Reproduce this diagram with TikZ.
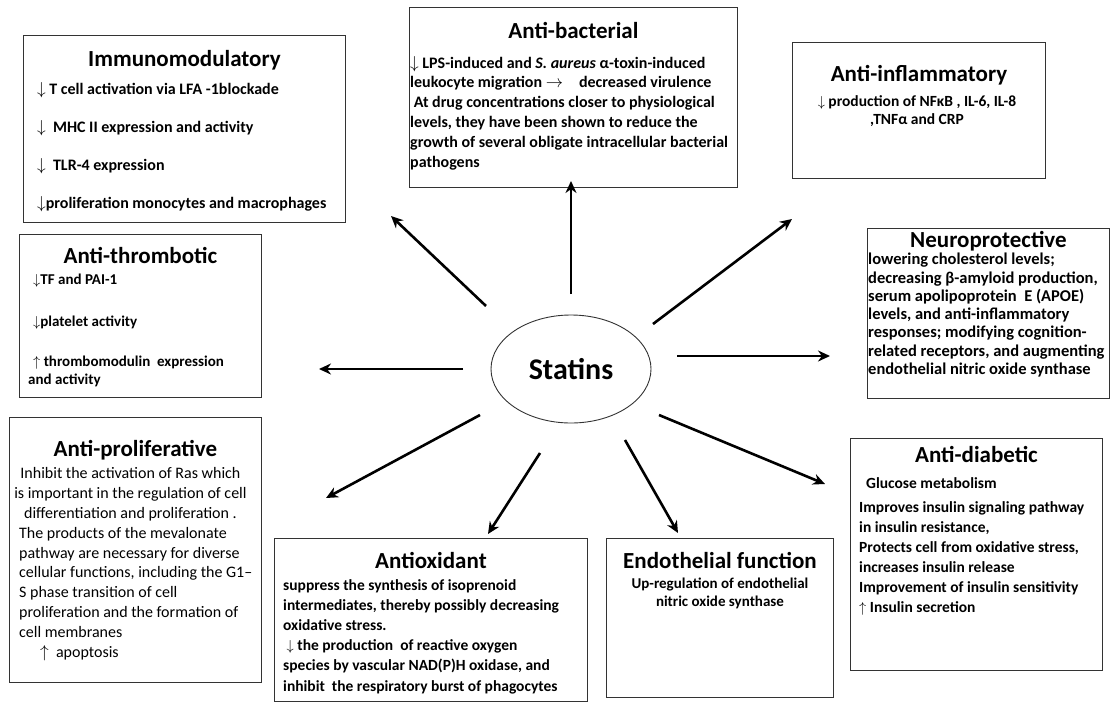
\documentclass[tikz,border=0pt]{standalone}
\usepackage{fontspec}
\setmainfont{Carlito}
\usetikzlibrary{positioning, calc, arrows.meta, shapes.geometric}
\tikzset{>={Stealth[length=12pt,width=11pt]}}

\begin{document}
\begin{tikzpicture}
    [x=1pt, y=-1pt,
     box/.style={draw=black!80, line width=0.9pt, anchor=north west, inner sep=0pt},
     ttl/.style={font=\bfseries\fontsize{23}{27}\selectfont, inner sep=0pt},
     txt/.style={anchor=north west, inner sep=0pt, align=left},
     fs/.style 2 args={font=\bfseries\fontsize{#1}{#2}\selectfont},
     thin/.style 2 args={font=\mdseries\fontsize{#1}{#2}\selectfont},
     spoke/.style={->, line width=2.6pt}]
    \useasboundingbox (0,0) rectangle (1111,702);

    \node[ellipse, draw=black!80, line width=0.9pt, minimum width=160pt, minimum height=108pt,
          font=\bfseries\fontsize{30}{34}\selectfont] (statins) at (571,369) {Statins};

    % the nine boxes
    \node[box, minimum width=322pt, minimum height=187pt] (immuno) at (23,35) {};
    \node[box, minimum width=328pt, minimum height=180pt] (antibac) at (409,7) {};
    \node[box, minimum width=253pt, minimum height=136pt] (antiinfl) at (792,42) {};
    \node[box, minimum width=242pt, minimum height=163pt] (antithromb) at (19,234) {};
    \node[box, minimum width=242pt, minimum height=170pt] (neuro) at (867,228) {};
    \node[box, minimum width=252pt, minimum height=232pt] (antidiab) at (850,438) {};
    \node[box, minimum width=252pt, minimum height=265pt] (antiprolif) at (9,417) {};
    \node[box, minimum width=313pt, minimum height=163pt] (antiox) at (274,538) {};
    \node[box, minimum width=227pt, minimum height=159pt] (endo) at (606,538) {};

    \node[ttl] (immuno-t) at ([yshift=-25pt]immuno.north) {Immunomodulatory};
    \node[txt, fs={16}{38}] (immuno-b) at ([xshift=14pt,yshift=-47pt]immuno.north west)
      {$\downarrow$ T cell activation via LFA -1blockade\\
       $\downarrow$\ \ MHC II expression and activity\\
       $\downarrow$\ \ TLR-4 expression\\
       $\downarrow$proliferation monocytes and macrophages};

    \node[ttl] (antibac-t) at ([yshift=-23pt]antibac.north) {Anti-bacterial};
    \node[txt, fs={16}{20}] (antibac-b1) at ([xshift=1pt,yshift=-49pt]antibac.north west)
      {$\downarrow$ LPS-induced and \textit{S. aureus} α-toxin-induced};
    \node[txt, fs={16}{20}] (antibac-b2) at ([xshift=1pt,yshift=-69pt]antibac.north west)
      {leukocyte migration $\rightarrow$\quad decreased virulence\\
       \ At drug concentrations closer to physiological\\
       levels, they have been shown to reduce the\\
       growth of several obligate intracellular bacterial\\
       pathogens};

    \node[ttl] (antiinfl-t) at ([yshift=-33pt]antiinfl.north) {Anti-inflammatory};
    \node[txt, anchor=north, align=center, fs={15.5}{18}] (antiinfl-b)
      at ([xshift=-2pt,yshift=-53pt]antiinfl.north)
      {$\downarrow$ production of NFκB , IL-6, IL-8\\ ,TNFα and CRP};

    \node[ttl] (antithromb-t) at ([yshift=-21pt]antithromb.north) {Anti-thrombotic};
    \node[txt, fs={15}{18}] (antithromb-b) at ([xshift=14pt,yshift=-40pt]antithromb.north west)
      {$\downarrow$TF and PAI-1\\[24pt]
       $\downarrow$platelet activity\\[22pt]
       $\uparrow$ thrombomodulin\ \ expression\\
       \hspace*{-5pt}and activity};

    \node[ttl] (neuro-t) at ([yshift=-13pt]neuro.north) {Neuroprotective};
    \node[txt, fs={16.5}{18.3}] (neuro-b) at ([xshift=1pt,yshift=-25pt]neuro.north west)
      {lowering cholesterol levels;\\
       decreasing β-amyloid production,\\
       serum apolipoprotein\ \ E (APOE)\\
       levels, and anti-inflammatory\\
       responses; modifying cognition-\\
       related receptors, and augmenting\\
       endothelial nitric oxide synthase};

    \node[ttl] (antidiab-t) at ([yshift=-16pt]antidiab.north) {Anti-diabetic};
    \node[txt, fs={15.5}{20}] (antidiab-b) at ([xshift=9pt,yshift=-39pt]antidiab.north west)
      {\hspace*{7pt}Glucose metabolism\\[4pt]
       Improves insulin signaling pathway\\
       in insulin resistance,\\
       Protects cell from oxidative stress,\\
       increases insulin release\\
       Improvement of insulin sensitivity\\
       $\uparrow$ Insulin secretion};

    \node[ttl] (antiprolif-t) at ([yshift=-33pt]antiprolif.north) {Anti-proliferative};
    \node[txt, thin={16}{20}, anchor=north, align=center] (antiprolif-b1) at ([xshift=-5pt,yshift=-50pt]antiprolif.north)
      {Inhibit the activation of Ras which\\
       is important in the regulation of cell\\
       differentiation and proliferation .};
    \node[txt, thin={16}{19.8}] (antiprolif-b2) at ([xshift=10pt,yshift=-110pt]antiprolif.north west)
      {The products of the mevalonate\\
       pathway are necessary for diverse\\
       cellular functions, including the G1–\\
       S phase transition of cell\\
       proliferation and the formation of\\
       cell membranes\\
       \hspace*{21pt}$\uparrow$\ \ apoptosis};

    \node[ttl] (antiox-t) at ([yshift=-22pt]antiox.north) {Antioxidant};
    \node[txt, fs={15.5}{20.2}] (antiox-b) at ([xshift=9pt,yshift=-41pt]antiox.north west)
      {suppress the synthesis of isoprenoid\\
       intermediates, thereby possibly decreasing\\
       oxidative stress.\\
       \ $\downarrow$ the production\ \ of reactive oxygen\\
       species by vascular NAD(P)H oxidase, and\\
       inhibit\ \ the respiratory burst of phagocytes};

    \node[ttl] (endo-t) at ([yshift=-22pt]endo.north) {Endothelial function};
    \node[txt, anchor=north, align=center, fs={15}{18}] (endo-b)
      at ([yshift=-40pt]endo.north)
      {Up-regulation of endothelial\\ nitric oxide synthase};

    % spokes out of the ellipse
    \coordinate (s-up) at (571,294);  \coordinate (e-up) at (571,181);
    \coordinate (s-ul) at (486,306);  \coordinate (e-ul) at (391,216);
    \coordinate (s-ur) at (653,324);  \coordinate (e-ur) at (792,219);
    \coordinate (s-r)  at (677,356);  \coordinate (e-r)  at (830,356);
    \coordinate (s-l)  at (463,369);  \coordinate (e-l)  at (319,369);
    \coordinate (s-ll) at (480,415);  \coordinate (e-ll) at (326,498);
    \coordinate (s-lr) at (659,415);  \coordinate (e-lr) at (825,484);
    \coordinate (s-dl) at (540,453);  \coordinate (e-dl) at (488,534);
    \coordinate (s-dr) at (625,440);  \coordinate (e-dr) at (678,533);

    \foreach \d in {up, ul, ur, r, l, ll, lr, dl, dr}
      \draw[spoke] (s-\d) -- (e-\d);
\end{tikzpicture}
\end{document}
